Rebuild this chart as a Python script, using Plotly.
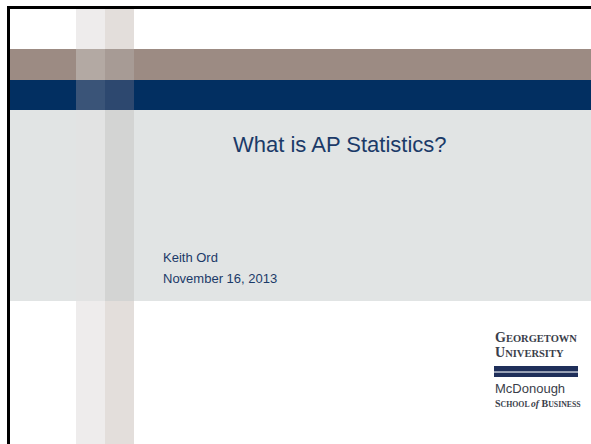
import plotly.graph_objects as go

# Slide content (text)
title_text = "What is AP Statistics?"
author_lines = ["Keith Ord", "November 16, 2013"]
logo_lines = ["GEORGETOWN", "UNIVERSITY", "McDonough", "SCHOOL of BUSINESS"]

W, H = 591, 444
fig = go.Figure()

shapes = []
def rect(x0, y0, x1, y1, color, opacity=1.0):
    shapes.append(dict(type="rect", xref="x", yref="y", x0=x0, y0=y0, x1=x1, y1=y1,
                       fillcolor=color, line=dict(width=0), opacity=opacity, layer="below"))

# background bands
rect(0, 0, W, H, "#ffffff")
rect(9, 49, W, 80, "#9c8b83")     # taupe
rect(9, 80, W, 110, "#022f61")    # navy
rect(9, 110, W, 301, "#e1e4e4")   # light grey check band

# vertical textured stripe (left lighter, right darker)
segs = [(9, 49, "#eeecec", "#e3dedb"),
        (49, 80, "#b3a9a3", "#a79b95"),
        (80, 110, "#3a5478", "#2d486f"),
        (110, 301, "#e2e3e3", "#d3d4d3"),
        (301, H, "#eeecec", "#e3dedb")]
for y0, y1, cl, cr in segs:
    rect(76, y0, 105, y1, cl)
    rect(105, y0, 134, y1, cr)

# border lines (top and left)
rect(7, 6, W, 9, "#000000")
rect(7, 6, 10, H, "#000000")

# logo bar
rect(494, 366, 578, 371.5, "#1f2f5a")
rect(494, 371.5, 578, 373, "#9aa3b8")
rect(494, 373, 578, 377, "#1f2f5a")

fig.update_layout(shapes=shapes)

ann = []
navy_text = "#1b3a68"
ann.append(dict(x=340, y=144, text=title_text, xanchor="center", yanchor="middle",
                font=dict(family="Liberation Sans, Arial", size=22, color=navy_text)))
ann.append(dict(x=161, y=257, text=author_lines[0], xanchor="left", yanchor="middle",
                font=dict(family="Liberation Sans, Arial", size=13, color=navy_text)))
ann.append(dict(x=161, y=278, text=author_lines[1], xanchor="left", yanchor="middle",
                font=dict(family="Liberation Sans, Arial", size=13, color=navy_text)))

logo_grey = "#3a3e4a"
def smallcaps(word, big=14, small=10.5):
    return "<b><span style='font-size:%spx'>%s</span><span style='font-size:%spx'>%s</span></b>" % (
        big, word[0], small, word[1:])

ann.append(dict(x=493, y=337, text=smallcaps(logo_lines[0]), xanchor="left", yanchor="middle",
                font=dict(family="Liberation Serif, Times New Roman", size=14, color=logo_grey)))
ann.append(dict(x=493, y=352, text=smallcaps(logo_lines[1]), xanchor="left", yanchor="middle",
                font=dict(family="Liberation Serif, Times New Roman", size=14, color=logo_grey)))
ann.append(dict(x=493, y=388, text=logo_lines[2], xanchor="left", yanchor="middle",
                font=dict(family="Liberation Sans, Arial", size=13, color=logo_grey)))
school = ("<b><span style='font-size:10px'>S</span><span style='font-size:7.8px'>CHOOL </span>"
          "<i><span style='font-size:9.5px'>of</span></i>"
          "<span style='font-size:10px'> B</span><span style='font-size:7.8px'>USINESS</span></b>")
ann.append(dict(x=493, y=403, text=school, xanchor="left", yanchor="middle",
                font=dict(family="Liberation Serif, Times New Roman", size=10, color=logo_grey)))

for a in ann:
    a.update(xref="x", yref="y", showarrow=False)
fig.update_layout(annotations=ann)

fig.update_layout(
    width=W, height=H,
    margin=dict(l=0, r=0, t=0, b=0),
    paper_bgcolor="#ffffff", plot_bgcolor="#ffffff",
    xaxis=dict(range=[0, W], visible=False, fixedrange=True),
    yaxis=dict(range=[H, 0], visible=False, fixedrange=True),
    showlegend=False,
)
fig.write_html(
    "out.html",
    config={"displayModeBar": False},
    post_script="document.body.style.margin='0';document.body.style.overflow='hidden';",
)
